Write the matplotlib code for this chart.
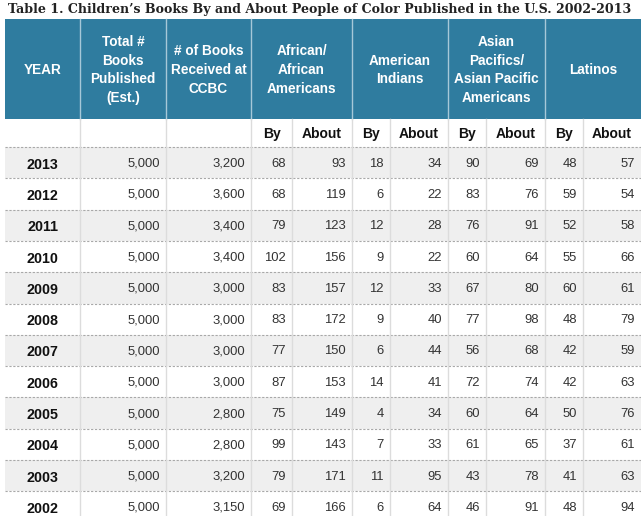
import matplotlib
matplotlib.use("Agg")
import matplotlib.pyplot as plt
from matplotlib.patches import Rectangle

years = [2013, 2012, 2011, 2010, 2009, 2008, 2007, 2006, 2005, 2004, 2003, 2002]
total_published = [5000] * 12
received_ccbc = [3200, 3600, 3400, 3400, 3000, 3000, 3000, 3000, 2800, 2800, 3200, 3150]
aa_by = [68, 68, 79, 102, 83, 83, 77, 87, 75, 99, 79, 69]
aa_about = [93, 119, 123, 156, 157, 172, 150, 153, 149, 143, 171, 166]
ai_by = [18, 6, 12, 9, 12, 9, 6, 14, 4, 7, 11, 6]
ai_about = [34, 22, 28, 22, 33, 40, 44, 41, 34, 33, 95, 64]
ap_by = [90, 83, 76, 60, 67, 77, 56, 72, 60, 61, 43, 46]
ap_about = [69, 76, 91, 64, 80, 98, 68, 74, 64, 65, 78, 91]
lat_by = [48, 59, 52, 55, 60, 48, 42, 42, 50, 37, 41, 48]
lat_about = [57, 54, 58, 66, 61, 79, 59, 63, 76, 61, 63, 94]

title = "Table 1. Children\u2019s Books By and About People of Color Published in the U.S. 2002-2013"
top_headers = ["YEAR", "Total #\nBooks\nPublished\n(Est.)", "# of Books\nReceived at\nCCBC",
               "African/\nAfrican\nAmericans", "American\nIndians",
               "Asian\nPacifics/\nAsian Pacific\nAmericans", "Latinos"]
sub_headers = ["By", "About"]

W, H = 641, 516
fig = plt.figure(figsize=(W / 100, H / 100), dpi=100)
ax = fig.add_axes([0, 0, 1, 1])
ax.set_xlim(0, W)
ax.set_ylim(H, 0)
ax.axis("off")

blue = "#2f7c9f"
sans = ["Liberation Sans", "DejaVu Sans"]

# column edges in pixels
edges = [5, 80, 166, 251, 292, 352, 390, 448, 486, 545, 583, 641]
group_spans = [(0, 1), (1, 2), (2, 3), (3, 5), (5, 7), (7, 9), (9, 11)]

head_top, head_bot = 19, 119
sub_bot = 147
row_h = 31.3

# title: shrink so it spans the table width
t = ax.text(8, 9.5, title, fontsize=10.6, fontweight="bold", family=["DejaVu Serif"],
            va="center", ha="left", color="#222222")
fig.canvas.draw()
tw = t.get_window_extent().width
t.set_fontsize(10.6 * 627 / tw)

# header block
ax.add_patch(Rectangle((edges[0], head_top), edges[-1] - edges[0], head_bot - head_top,
                       color=blue, lw=0))
for i, (a, b) in enumerate(group_spans):
    xc = (edges[a] + edges[b]) / 2
    ax.text(xc, (head_top + head_bot) / 2 + 1, top_headers[i], color="white",
            fontsize=9.8, fontweight="bold", family=sans, ha="center", va="center",
            linespacing=1.45)
    if a > 0:
        ax.plot([edges[a], edges[a]], [head_top, head_bot], color="#a6c8d8", lw=1)

# data rows backgrounds
for r in range(len(years)):
    y0 = sub_bot + r * row_h
    if r % 2 == 0:
        ax.add_patch(Rectangle((edges[0], y0), edges[-1] - edges[0], row_h,
                               color="#efefef", lw=0))
    ax.plot([edges[0], edges[-1]], [y0, y0], color="#a8a8a8", lw=0.8, ls=(0, (2, 1.5)))

# vertical lines in body
for x in edges[1:-1]:
    ax.plot([x, x], [head_bot, H], color="#dcdcdc", lw=1, zorder=3)

# sub headers
for j in range(3, 11):
    xc = (edges[j] + edges[j + 1]) / 2
    ax.text(xc, (head_bot + sub_bot) / 2 + 1, sub_headers[(j - 3) % 2], fontsize=10,
            fontweight="bold", family=sans, ha="center", va="center", color="#111111")

columns = [total_published, received_ccbc, aa_by, aa_about, ai_by, ai_about,
           ap_by, ap_about, lat_by, lat_about]
for r, yr in enumerate(years):
    yc = sub_bot + r * row_h + row_h / 2 + 1
    ax.text((edges[0] + edges[1]) / 2, yc + 1, str(yr), fontsize=10.3, fontweight="bold",
            family=sans, ha="center", va="center", color="#111111")
    for c, col in enumerate(columns):
        ax.text(edges[c + 2] - 6, yc, f"{col[r]:,}", fontsize=9.4, family=sans,
                ha="right", va="center", color="#333333")

fig.savefig("out.png", dpi=100)
